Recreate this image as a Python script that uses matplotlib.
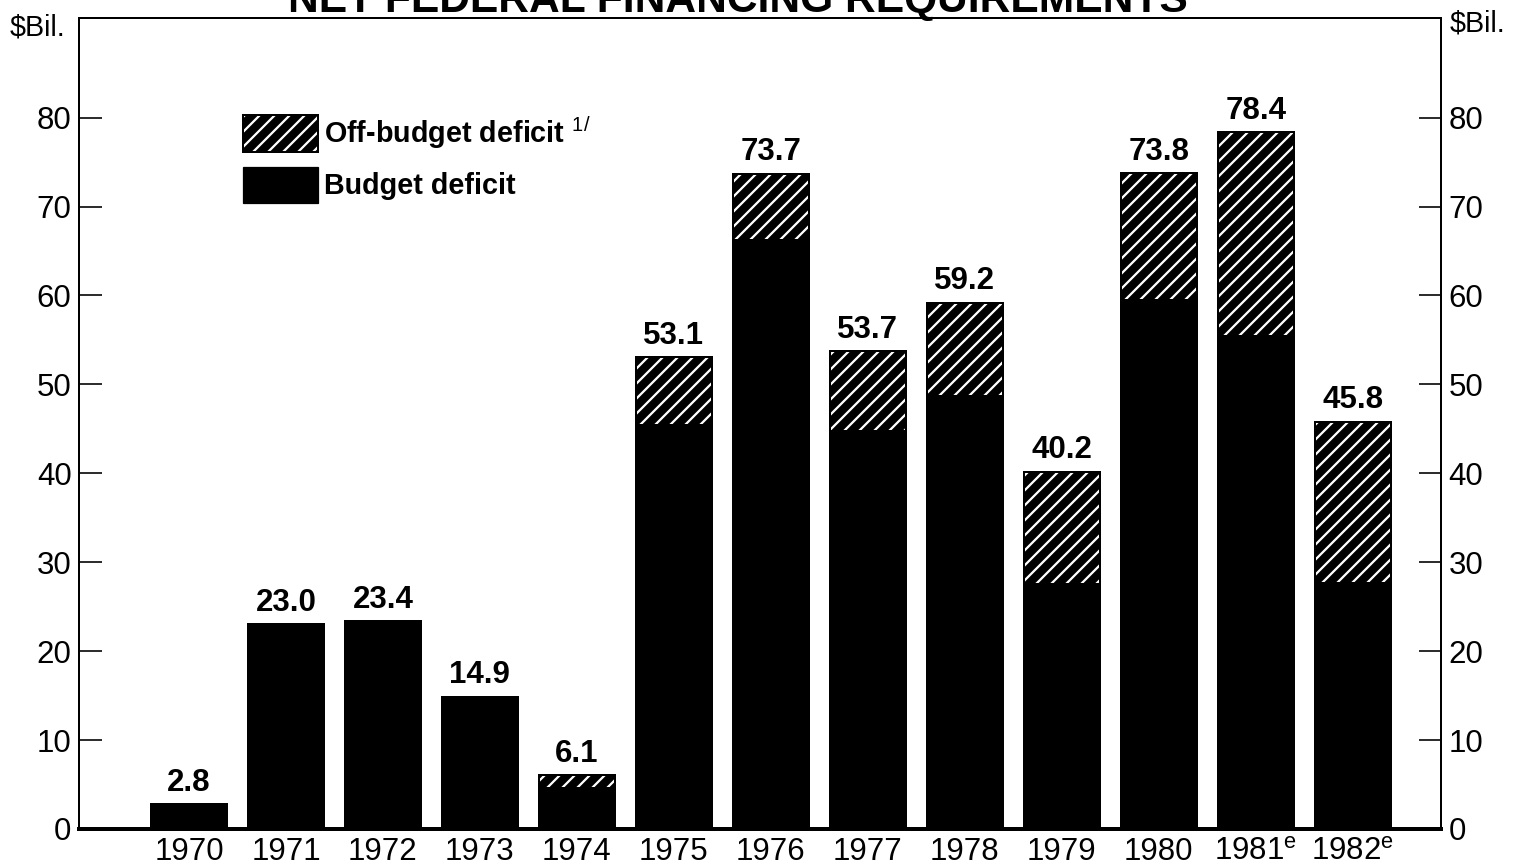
import numpy as np
import matplotlib
matplotlib.use("Agg")
import matplotlib.pyplot as plt
from matplotlib.patches import Rectangle

plt.rcParams['font.family'] = ['Liberation Sans', 'DejaVu Sans']
plt.rcParams['mathtext.fontset'] = 'custom'
plt.rcParams['mathtext.rm'] = 'Liberation Sans'
plt.rcParams['hatch.linewidth'] = 1.8

# data ($ billions)
years = ['1970', '1971', '1972', '1973', '1974', '1975', '1976',
         '1977', '1978', '1979', '1980', '1981$^{\\mathrm{e}}$', '1982$^{\\mathrm{e}}$']
budgetDeficit = [2.8, 23.0, 23.4, 14.9, 4.7, 45.5, 66.4, 44.9, 48.8, 27.7, 59.6, 55.6, 27.8]
offBudgetDeficit = [0.0, 0.0, 0.0, 0.0, 1.4, 7.6, 7.3, 8.8, 10.4, 12.5, 14.2, 22.8, 18.0]
totals = ['2.8', '23.0', '23.4', '14.9', '6.1', '53.1', '73.7',
          '53.7', '59.2', '40.2', '73.8', '78.4', '45.8']

dpi = 90
fig = plt.figure(figsize=(1515 / dpi, 868 / dpi), dpi=dpi)
ax = fig.add_axes([79 / 1515, 1 - 829 / 868, 1362 / 1515, 811 / 868])

x = np.arange(len(years))
w = 0.784
budget = np.array(budgetDeficit)
off = np.array(offBudgetDeficit)

ax.bar(x, budget, w, color='black', linewidth=0)
ax.bar(x, off, w, bottom=budget, facecolor='black', edgecolor='white',
       hatch='//', linewidth=0)
ax.bar(x, budget + off, w, fill=False, edgecolor='black', linewidth=1.6)

for i in range(len(x)):
    ax.text(x[i], budget[i] + off[i] + 0.7, totals[i], ha='center', va='bottom',
            fontsize=25, fontweight='bold')

ax.set_xlim(-1.134, 12.91)
ax.set_ylim(0, 91.2)
ax.set_yticks(np.arange(0, 81, 10))
ax.set_xticks(x)
ax.set_xticklabels(years, fontsize=25)
ax.tick_params(axis='x', length=0, pad=6)
ax.tick_params(axis='y', direction='in', length=18, width=1.3, labelsize=25,
               right=True, labelright=True, pad=6)
for s in ['left', 'right', 'top']:
    ax.spines[s].set_linewidth(1.6)
ax.spines['bottom'].set_linewidth(3.2)

# legend drawn by hand so the hatched box keeps a black outline
ax.add_patch(Rectangle((0.1204, 0.8348), 0.0551, 0.0456, transform=ax.transAxes,
                       facecolor='black', edgecolor='white', hatch='//', linewidth=0))
ax.add_patch(Rectangle((0.1204, 0.8348), 0.0551, 0.0456, transform=ax.transAxes,
                       fill=False, edgecolor='black', linewidth=1.6))
ax.add_patch(Rectangle((0.1204, 0.7719), 0.0551, 0.0444, transform=ax.transAxes,
                       facecolor='black', edgecolor='black', linewidth=1.0))
ax.text(0.1799, 0.858, 'Off-budget deficit $^{1/}$', transform=ax.transAxes,
        va='center', ha='left', fontsize=23, fontweight='bold')
ax.text(0.1799, 0.793, 'Budget deficit', transform=ax.transAxes,
        va='center', ha='left', fontsize=23, fontweight='bold')

fig.text(10 / 1515, 1 - 27 / 868, '$Bil.', ha='left', va='center', fontsize=23)
fig.text(1450 / 1515, 1 - 24 / 868, '$Bil.', ha='left', va='center', fontsize=23)
fig.text(0.487, 1 - 12 / 868, 'NET FEDERAL FINANCING REQUIREMENTS', ha='center',
         va='baseline', fontsize=34, fontweight='bold')

fig.savefig('out.png', dpi=dpi)
